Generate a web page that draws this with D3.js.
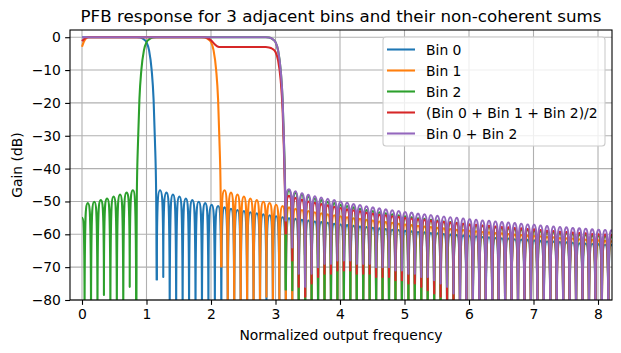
<!DOCTYPE html>
<html>
<head>
<meta charset="utf-8">
<script src="https://cdn.jsdelivr.net/npm/d3@7"></script>
<style>
body { margin: 0; background: #fff; }
text { font-family: "DejaVu Sans", sans-serif; fill: #000; }
</style>
</head>
<body>
<div id="chart"></div>
<script>
// values
const seriesNames = ['Bin 0', 'Bin 1', 'Bin 2', '(Bin 0 + Bin 1 + Bin 2)/2', 'Bin 0 + Bin 2'];
const colors = ['#1f77b4', '#ff7f0e', '#2ca02c', '#d62728', '#9467bd'];
const xTicks = [0, 1, 2, 3, 4, 5, 6, 7, 8];
const yTicks = [0, -10, -20, -30, -40, -50, -60, -70, -80];

const lobeStep = 0.1;   // sidelobe spacing in output-frequency units
const floorDb = -90;    // nulls that go below the bottom of the axes

// sidelobe peak levels of one bin, by distance from its centre (1.21, 1.31, ...)
const binSidelobes = [-46.6, -47.3, -47.9, -48.5, -49.1, -49.6, -50.1, -50.5, -51.0, -51.4,
  -51.8, -52.2, -52.6, -52.9, -53.3, -53.6, -53.9, -54.2, -54.5, -54.8,
  -55.1, -55.3, -55.6, -55.8, -56.1, -56.3, -56.5, -56.8, -57.0, -57.2,
  -57.4, -57.6, -57.8, -58.0, -58.2, -58.4, -58.6, -58.7, -58.9, -59.1,
  -59.3, -59.4, -59.6, -59.7, -59.9, -60.1, -60.2, -60.4, -60.5, -60.6,
  -60.8, -60.9, -61.1, -61.2, -61.3, -61.5, -61.6, -61.7, -61.8, -62.0,
  -62.1, -62.2, -62.3, -62.4, -62.5, -62.7, -62.8, -62.9, -63.0, -63.1, -63.2];

// main lobes [freq, dB]
const bin0Main = [[0, 0], [0.85, 0], [0.9, -0.1], [0.95, -0.5], [1.0, -1.5], [1.04, -4], [1.08, -10], [1.11, -19], [1.13, -31], [1.15, -48]];
const bin1Main = [[0, -2.9], [0.03, -1.3], [0.06, -0.4], [0.1, 0], [1.85, 0], [1.9, -0.1], [1.95, -0.5], [2.0, -1.5], [2.04, -4], [2.08, -10], [2.11, -19], [2.13, -31], [2.15, -48]];
const bin2Main = [[0.85, -48], [0.87, -31], [0.89, -19], [0.92, -10], [0.96, -4], [1.0, -1.5], [1.05, -0.5], [1.1, -0.1], [1.15, 0], [2.85, 0], [2.9, -0.1], [2.95, -0.5], [3.0, -1.5], [3.04, -4], [3.08, -10], [3.11, -19], [3.13, -31], [3.15, -48]];
const avgMain = [[0, -1.2], [0.03, -0.6], [0.06, -0.2], [0.1, 0], [1.9, 0], [1.95, -0.3], [2.0, -0.9], [2.05, -2.0], [2.1, -2.8], [2.15, -3.0], [2.85, -3.0], [2.9, -3.1], [2.95, -3.5], [3.0, -4.5], [3.04, -7], [3.08, -13], [3.11, -22], [3.13, -34], [3.15, -50]];
const sumMain = [[0, 0], [2.85, 0], [2.9, -0.1], [2.95, -0.5], [3.0, -1.5], [3.04, -4], [3.08, -10], [3.11, -19], [3.13, -31], [3.15, -48]];
const bin2Start = [0, -55];

// null depths that stay inside the axes (the rest drop below -80)
const bin0Nulls = [-74, -73];
const bin1Nulls = [-70, floorDb, floorDb, floorDb, floorDb, floorDb, floorDb, -79];
const bin2LeftNulls = [floorDb, floorDb, floorDb, -78.5, floorDb, floorDb, floorDb, -76, floorDb];
const bin2RightNulls = [-77, -77];

const avgPeaks = [-48.3, -48.9, -49.5, -50.0, -50.4, -50.8, -51.2, -51.6, -52.0, -52.4,
  -52.7, -53.0, -53.4, -53.7, -54.0, -54.2, -54.5, -54.7, -55.0, -55.2,
  -55.4, -55.6, -55.8, -56.0, -56.2, -56.4, -56.6, -56.8, -57.0, -57.1,
  -57.3, -57.4, -57.6, -57.8, -57.9, -58.1, -58.2, -58.4, -58.5, -58.7,
  -58.9, -59.0, -59.2, -59.3, -59.5, -59.6, -59.7, -59.9, -60.0, -60.1, -60.2];
const avgNulls = [-60, -68, -76, -79, -75, -73, -72, -72, -71, -71, -71, -72, -72, -72, -73, -73, -73,
  -74, -74, -75, -75, -76, -77, -78, -79, -80, -82];
const sumPeaks = [-46.3, -46.9, -47.5, -48.0, -48.4, -48.8, -49.2, -49.6, -50.0, -50.4,
  -50.8, -51.1, -51.5, -51.8, -52.1, -52.4, -52.7, -52.9, -53.2, -53.4,
  -53.7, -53.9, -54.1, -54.4, -54.6, -54.8, -55.0, -55.2, -55.4, -55.6,
  -55.8, -55.9, -56.1, -56.3, -56.4, -56.6, -56.8, -57.0, -57.1, -57.3,
  -57.5, -57.6, -57.8, -57.9, -58.1, -58.2, -58.3, -58.5, -58.6, -58.7, -58.8];
const sumNulls = [-56, -64, -72, -76, -72, -70, -69, -69, -68, -68, -68, -69, -69, -69, -70, -70, -70,
  -71, -71, -72, -72, -73, -73, -74, -75, -76, -78];

// null, peak, null, peak ... starting at x0
function lobes(x0, peaks, nulls) {
  const pts = [];
  peaks.forEach((p, i) => {
    pts.push([x0 + i * lobeStep, nulls[i] ?? floorDb]);
    pts.push([x0 + (i + 0.5) * lobeStep, p]);
  });
  pts.push([x0 + peaks.length * lobeStep, nulls[peaks.length] ?? floorDb]);
  return pts;
}

const b0Side = lobes(1.16, binSidelobes, bin0Nulls);
const b1Side = lobes(2.16, binSidelobes.slice(0, 61), bin1Nulls);
const b2Left = [bin2Start].concat(lobes(0.04, binSidelobes.slice(0, 8).reverse(), bin2LeftNulls));
const b2Right = lobes(3.16, binSidelobes.slice(0, 51), bin2RightNulls);
const avgSide = lobes(3.16, avgPeaks, avgNulls);
const sumSide = lobes(3.16, sumPeaks, sumNulls);

// each series: main-lobe pieces (smooth) and sidelobe pieces (lobe arches)
const series = [
  [{ lobe: false, pts: bin0Main.concat([b0Side[0]]) }, { lobe: true, pts: b0Side }],
  [{ lobe: false, pts: bin1Main.concat([b1Side[0]]) }, { lobe: true, pts: b1Side }],
  [{ lobe: true, pts: b2Left }, { lobe: false, pts: [b2Left[b2Left.length - 1]].concat(bin2Main, [b2Right[0]]) }, { lobe: true, pts: b2Right }],
  [{ lobe: false, pts: avgMain.concat([avgSide[0]]) }, { lobe: true, pts: avgSide }],
  [{ lobe: false, pts: sumMain.concat([sumSide[0]]) }, { lobe: true, pts: sumSide }]
];

// arch between a null and a peak: vertical at the null, flat at the top
function curveLobe(context) {
  let pts;
  return {
    areaStart() {}, areaEnd() {},
    lineStart() { pts = []; },
    point(px, py) { pts.push([+px, +py]); },
    lineEnd() {
      pts.forEach((p, i) => {
        if (i === 0) { context.moveTo(p[0], p[1]); return; }
        const a = pts[i - 1];
        const dx = p[0] - a[0];
        if (p[1] < a[1]) {
          context.bezierCurveTo(a[0], a[1] + (p[1] - a[1]) * 0.8, a[0] + dx * 0.1, p[1], p[0], p[1]);
        } else if (p[1] > a[1]) {
          context.bezierCurveTo(a[0] + dx * 0.9, a[1], p[0], p[1] + (a[1] - p[1]) * 0.8, p[0], p[1]);
        } else {
          context.lineTo(p[0], p[1]);
        }
      });
    }
  };
}

const width = 621;
const height = 353;
const mLeft = 70, mRight = 612, mTop = 30, mBottom = 300;

const svg = d3.select('#chart').append('svg').attr('width', width).attr('height', height);

const x = d3.scaleLinear().domain([-0.186, 8.217]).range([mLeft, mRight]);
const y = d3.scaleLinear().domain([-80, 2.2]).range([mBottom, mTop]);

svg.append('defs').append('clipPath').attr('id', 'plot')
  .append('rect').attr('x', mLeft).attr('y', mTop).attr('width', mRight - mLeft).attr('height', mBottom - mTop);

// grid
const grid = svg.append('g').attr('stroke', '#b0b0b0').attr('stroke-width', 1.1);
grid.selectAll('.gx').data(xTicks).join('line').attr('class', 'gx')
  .attr('x1', d => x(d)).attr('x2', d => x(d)).attr('y1', mTop).attr('y2', mBottom);
grid.selectAll('.gy').data(yTicks).join('line').attr('class', 'gy')
  .attr('x1', mLeft).attr('x2', mRight).attr('y1', d => y(d)).attr('y2', d => y(d));

// lines
const smooth = d3.line().x(d => x(d[0])).y(d => y(d[1])).curve(d3.curveMonotoneX);
const arches = d3.line().x(d => x(d[0])).y(d => y(d[1])).curve(curveLobe);
const plot = svg.append('g').attr('clip-path', 'url(#plot)');
series.forEach((pieces, i) => {
  plot.append('g').selectAll('path').data(pieces).join('path')
    .attr('d', d => (d.lobe ? arches : smooth)(d.pts))
    .attr('fill', 'none').attr('stroke', colors[i]).attr('stroke-width', 2.08)
    .attr('stroke-linejoin', 'round').attr('stroke-linecap', 'butt');
});

// axes
function xAxis(g) {
  g.attr('transform', `translate(0, ${mBottom})`)
    .call(d3.axisBottom(x).tickValues(xTicks).tickSize(4.86).tickPadding(4.2).tickFormat(d3.format('d')));
}
function yAxis(g) {
  g.attr('transform', `translate(${mLeft}, 0)`)
    .call(d3.axisLeft(y).tickValues(yTicks).tickSize(4.86).tickPadding(4.2).tickFormat(d3.format('d')));
}
svg.append('g').call(xAxis);
svg.append('g').call(yAxis);
svg.selectAll('.tick line').attr('stroke', '#000').attr('stroke-width', 1.1);
svg.selectAll('.tick text').attr('font-size', '13.9px').attr('font-family', 'DejaVu Sans');
svg.selectAll('.domain').remove();

svg.append('rect').attr('x', mLeft).attr('y', mTop).attr('width', mRight - mLeft).attr('height', mBottom - mTop)
  .attr('fill', 'none').attr('stroke', '#000').attr('stroke-width', 1.1);

// texts
svg.append('text').attr('x', (mLeft + mRight) / 2).attr('y', 21.7).attr('text-anchor', 'middle')
  .attr('font-size', '16.7px').text('PFB response for 3 adjacent bins and their non-coherent sums');
svg.append('text').attr('x', (mLeft + mRight) / 2).attr('y', 340).attr('text-anchor', 'middle')
  .attr('font-size', '13.9px').text('Normalized output frequency');
svg.append('text').attr('transform', `translate(22, ${(mTop + mBottom) / 2}) rotate(-90)`).attr('text-anchor', 'middle')
  .attr('font-size', '13.9px').text('Gain (dB)');

// legend
const legend = svg.append('g');
legend.append('rect').attr('x', 383).attr('y', 37).attr('width', 222).attr('height', 109).attr('rx', 3)
  .attr('fill', '#fff').attr('fill-opacity', 0.8).attr('stroke', '#cccccc').attr('stroke-width', 1.1);
const rows = legend.selectAll('g.row').data(seriesNames).join('g').attr('class', 'row')
  .attr('transform', (d, i) => `translate(0, ${49.5 + i * 21})`);
rows.append('line').attr('x1', 387).attr('x2', 415).attr('stroke', (d, i) => colors[i]).attr('stroke-width', 2.08);
rows.append('text').attr('x', 426).attr('y', 5).attr('font-size', '13.9px').text(d => d);
</script>
</body>
</html>
